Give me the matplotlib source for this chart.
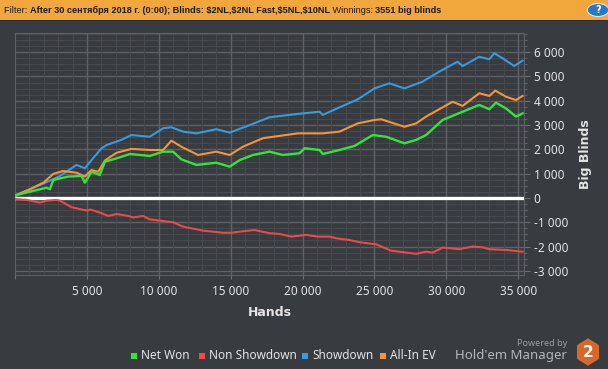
import numpy as np
import matplotlib
matplotlib.use("Agg")
import matplotlib.pyplot as plt
from matplotlib.patches import Rectangle, RegularPolygon, Circle
from matplotlib.ticker import MultipleLocator, FuncFormatter

plt.rcParams['font.family'] = ['Noto Sans', 'DejaVu Sans']

# --- data (hands, big blinds) ---
sd_x = [0, 1000, 2000, 3125, 4280, 4860, 5320, 6020, 6370, 7400, 8100, 9375, 10300, 10880, 11690,
        12620, 14000, 14930, 16320, 17700, 19670, 21180, 21410, 22570, 23840, 25000, 26040,
        27080, 28350, 29510, 30780, 31130, 32290, 32990, 33330, 33910, 34720, 35300]
sd_y = [100, 350, 600, 905, 1360, 1220, 1560, 2045, 2180, 2390, 2590, 2520, 2870, 2910, 2730,
        2660, 2830, 2690, 3000, 3320, 3460, 3550, 3420, 3730, 4060, 4510, 4720,
        4510, 4790, 5200, 5610, 5430, 5810, 5710, 5960, 5750, 5430, 5650]

ev_x = [0, 1000, 2000, 2660, 3350, 4280, 4860, 5320, 5790, 6250, 7060, 8100, 9375, 10300, 10880,
        11570, 12730, 14000, 14930, 15850, 17240, 19670, 21410, 22570, 23840, 25000, 25470,
        27080, 27900, 28590, 29740, 30440, 31130, 32290, 32990, 33400, 34140, 34840, 35300]
ev_y = [100, 350, 640, 990, 1110, 1040, 880, 1150, 1080, 1540, 1860, 2020, 1975, 1975, 2360,
        2110, 1770, 1905, 1770, 2110, 2460, 2660, 2660, 2730, 3070, 3210, 3240,
        2930, 3070, 3350, 3730, 3960, 3790, 4310, 4200, 4420, 4170, 4030, 4200]

nw_x = [0, 115, 1040, 2200, 2430, 2660, 3700, 4630, 4860, 5320, 5900, 6250, 7060, 7990, 9375,
        10300, 11000, 11570, 12620, 14000, 14930, 15630, 16550, 17700, 18630, 19790, 20140,
        21180, 21410, 22570, 23610, 24880, 25810, 27080, 27900, 28590, 29740, 31130, 32290,
        32990, 33450, 34140, 34840, 35300]
nw_y = [60, 120, 260, 420, 360, 740, 880, 905, 630, 1080, 945, 1490, 1630, 1810, 1730,
        1905, 1905, 1590, 1360, 1450, 1290, 1560, 1770, 1905, 1770, 1840, 2045,
        1975, 1810, 1975, 2140, 2590, 2520, 2250, 2390, 2590, 3210, 3550, 3830,
        3650, 3920, 3690, 3350, 3480]

ns_x = [0, 810, 1740, 2200, 2890, 3125, 3940, 4740, 5090, 5210, 5900, 6480, 7060, 7870, 8220,
        8910, 9375, 10300, 11000, 11690, 13080, 14470, 15050, 15850, 16670, 17710, 18400,
        19210, 20260, 21060, 21870, 22340, 23260, 23960, 25120, 26160, 26740, 27900, 28590,
        29050, 29740, 30900, 31830, 32520, 32990, 34140, 35300]
ns_y = [-40, -80, -190, -110, -80, -110, -380, -490, -520, -470, -600, -740, -660, -740, -800,
        -740, -880, -950, -1000, -1180, -1345, -1430, -1430, -1370, -1320, -1450, -1480,
        -1590, -1520, -1590, -1590, -1660, -1730, -1820, -1910, -2170, -2210, -2300, -2210,
        -2250, -2040, -2110, -2000, -2030, -2110, -2140, -2210]

legend_names = ["Net Won", "Non Showdown", "Showdown", "All-In EV"]
colors = ["#34e43a", "#ea4a4c", "#3a9ae0", "#f5953a"]

bg = "#383b3f"
txt = "#e4e4e4"
bold_fam = ["DejaVu Sans"]
xmax, ymin, ymax = 35400, -3170, 6790

fig = plt.figure(figsize=(6.08, 3.69), dpi=100, facecolor=bg)

# title bar
fig.patches.append(Rectangle((0, 1 - 20 / 369), 1, 20 / 369, transform=fig.transFigure,
                             facecolor="#f2a73c", edgecolor="none", zorder=0))
fig.patches.append(Rectangle((0, 1 - 21 / 369), 1, 1 / 369, transform=fig.transFigure,
                             facecolor="#2c2e31", edgecolor="none", zorder=0))

ax = fig.add_axes([15 / 608, 1 - 275 / 369, 509 / 608, 242 / 369])
ax.set_facecolor(bg)

# grid drawn by hand (minor then major)
for v in np.arange(-3000, ymax, 250):
    major = v % 1000 == 0
    ax.axhline(v, color="#5e6165" if major else "#46494d", lw=1.0 if major else 0.8, zorder=1)
for v in np.arange(1000, xmax, 1000):
    major = v % 5000 == 0
    ax.axvline(v, color="#5e6165" if major else "#46494d", lw=1.0 if major else 0.8, zorder=1)

ax.set_xlim(0, xmax)
ax.set_ylim(ymin, ymax)
ax.xaxis.set_major_locator(MultipleLocator(5000))
ax.xaxis.set_minor_locator(MultipleLocator(1000))
ax.yaxis.set_major_locator(MultipleLocator(1000))
ax.yaxis.set_minor_locator(MultipleLocator(250))

fmt = FuncFormatter(lambda v, p: "{:,}".format(int(v)).replace(",", " "))
ax.xaxis.set_major_formatter(FuncFormatter(lambda v, p: "" if v == 0 else "{:,}".format(int(v)).replace(",", " ")))
ax.yaxis.set_major_formatter(fmt)
ax.yaxis.tick_right()
ax.yaxis.set_label_position("right")
ax.tick_params(axis="both", which="both", colors="#6a6d71", labelcolor=txt, labelsize=8.5)
ax.tick_params(axis="y", which="major", length=4, pad=3)
ax.tick_params(axis="y", which="minor", length=2)
ax.tick_params(axis="x", which="major", length=3, pad=4)
ax.tick_params(axis="x", which="minor", length=0)
for s in ax.spines.values():
    s.set_color("#5e6165")

ax.axhline(0, color="white", lw=2.4, zorder=3)
ax.plot(ns_x, ns_y, color=colors[1], lw=1.5, zorder=4)
ax.plot(sd_x, sd_y, color=colors[2], lw=1.5, zorder=4)
ax.plot(ev_x, ev_y, color=colors[3], lw=1.5, zorder=4)
ax.plot(nw_x, nw_y, color=colors[0], lw=1.7, zorder=5)

ax.set_xlabel("Hands", color=txt, fontsize=9, fontweight="bold", labelpad=6, family=bold_fam)
ax.set_ylabel("Big Blinds", color=txt, fontsize=9, fontweight="bold", labelpad=8, family=bold_fam)

# title bar text, pieces placed one after another, shrunk to fit the bar like the original
pieces = [("Filter: ", "normal"),
          ("After 30 сентября 2018 г. (0:00); Blinds: $2NL,$2NL Fast,$5NL,$10NL", "bold"),
          (" Winnings: ", "normal"),
          ("3551 big blinds", "bold")]
tfam = ["Liberation Sans", "DejaVu Sans"]
fig.canvas.draw()
r = fig.canvas.get_renderer()
fs = 7.6
texts = []
xp = 4
for s, w in pieces:
    t = fig.text(xp / 608, 1 - 10.5 / 369, s, fontsize=fs, fontweight=w, color="#1a1a1a",
                 va="center", ha="left", parse_math=False, family=tfam)
    texts.append(t)
    xp += t.get_window_extent(r).width
if xp > 436:
    fs = fs * 432 / (xp - 4)
    xp = 4
    for t in texts:
        t.set_fontsize(fs)
        t.set_x(xp / 608)
        xp += t.get_window_extent(r).width
fig.patches.append(Circle((598 / 608, 1 - 10 / 369), 6.5 / 369, transform=fig.transFigure,
                          facecolor="#2a78c8", edgecolor="#dfe8f5", lw=0.8))
fig.text(598 / 608, 1 - 10 / 369, "?", fontsize=7, fontweight="bold", color="white",
         ha="center", va="center", family=bold_fam)

# legend
lx = [131, 199, 302, 380]
for x, n, c in zip(lx, legend_names, colors):
    fig.patches.append(Rectangle((x / 608, 1 - 359 / 369), 6 / 608, 6 / 369,
                                 transform=fig.transFigure, facecolor=c, edgecolor="none"))
    fig.text((x + 10) / 608, 1 - 355.5 / 369, n, fontsize=8.5, color=txt, ha="left", va="center")

# powered by logo
fig.text(567 / 608, 1 - 343 / 369, "Powered by", fontsize=6.5, color="#9a9c9f", ha="right", va="center")
fig.text(567 / 608, 1 - 356 / 369, "Hold'em Manager", fontsize=9.5, color="#b4b6b8", ha="right", va="center")
hx = fig.add_axes([575 / 608, 1 - 366 / 369, 26 / 608, 28 / 369])
hx.set_xlim(-1, 1)
hx.set_ylim(-1, 1)
hx.axis("off")
hx.add_patch(RegularPolygon((0, 0), 6, radius=0.98, orientation=0, facecolor="#d4692b", edgecolor="none"))
hx.text(0, -0.05, "2", fontsize=11, fontweight="bold", color="white", ha="center", va="center",
        family=bold_fam)

fig.savefig("out.png", dpi=100, facecolor=bg)
